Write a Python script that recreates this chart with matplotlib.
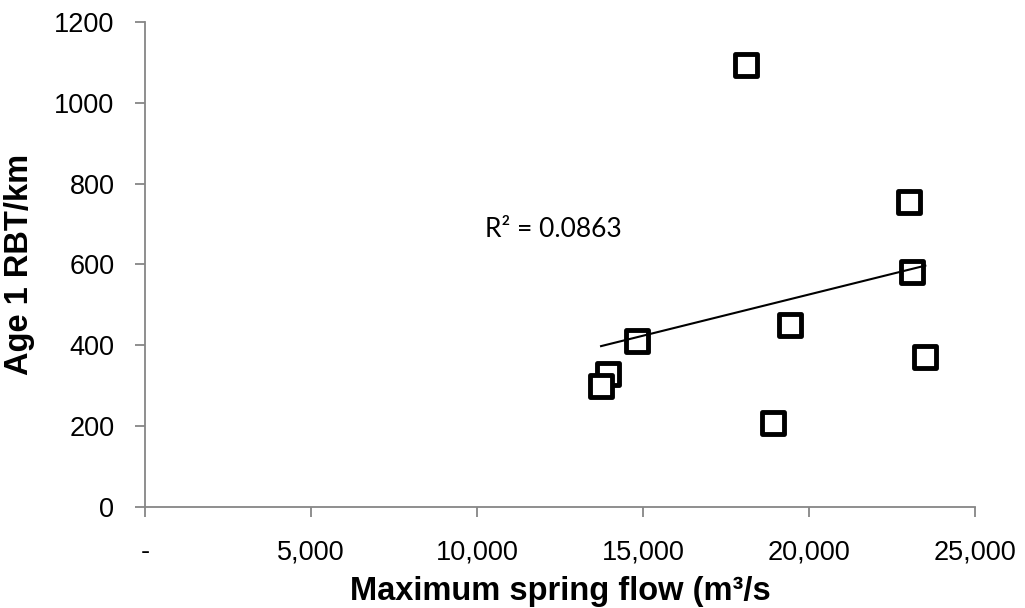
import numpy as np
import matplotlib
matplotlib.use('Agg')
import matplotlib.pyplot as plt
from matplotlib.markers import MarkerStyle
from matplotlib.ticker import FuncFormatter

# max spring flow (m3/s) vs age 1 rainbow trout per km
flow = [18120, 23010, 23110, 19430, 23510, 14830, 13940, 13740, 18930]
rbt = [1094, 754, 582, 450, 370, 411, 329, 300, 209]
r2_text = "R\u00b2 = 0.0863"

plt.rcParams['font.family'] = ['Liberation Sans', 'DejaVu Sans']

fig = plt.figure(figsize=(10.25, 6.08), dpi=100)
ax = fig.add_axes([0.1415, 0.166, 0.8095, 0.798])

ax.plot(flow, rbt, linestyle='none', marker=MarkerStyle('s', joinstyle='round'),
        markersize=15.5, markerfacecolor='white', markeredgecolor='black',
        markeredgewidth=3.5, zorder=3, clip_on=False)

# linear trendline
slope, icpt = np.polyfit(flow, rbt, 1)
xs = np.array([min(flow), max(flow)])
ax.plot(xs, slope * xs + icpt, color='black', linewidth=1.5, zorder=4)
ax.text(10240, 686, r2_text, fontsize=19, family=['Lato', 'DejaVu Sans'],
        ha='left', va='center')

ax.set_xlim(0, 25000)
ax.set_ylim(0, 1200)
ax.set_xticks(np.arange(0, 25001, 5000))
ax.set_yticks(np.arange(0, 1201, 200))
ax.xaxis.set_major_formatter(FuncFormatter(lambda v, p: '-' if v == 0 else '{:,.0f}'.format(v)))

for s in ['top', 'right']:
    ax.spines[s].set_visible(False)
for s in ['left', 'bottom']:
    ax.spines[s].set_color('#868686')
    ax.spines[s].set_linewidth(1.3)
ax.tick_params(axis='both', colors='#868686', labelcolor='black', labelsize=19.5,
               length=7, width=1.3, direction='out')
ax.tick_params(axis='x', pad=16)
ax.tick_params(axis='y', pad=15)

ax.set_xlabel("Maximum spring flow (m\u00b3/s", fontsize=23.5, fontweight='bold', labelpad=8)
ax.set_ylabel("Age 1 RBT/km", fontsize=23.5, fontweight='bold', labelpad=14)

plt.savefig("out.png", dpi=100)
